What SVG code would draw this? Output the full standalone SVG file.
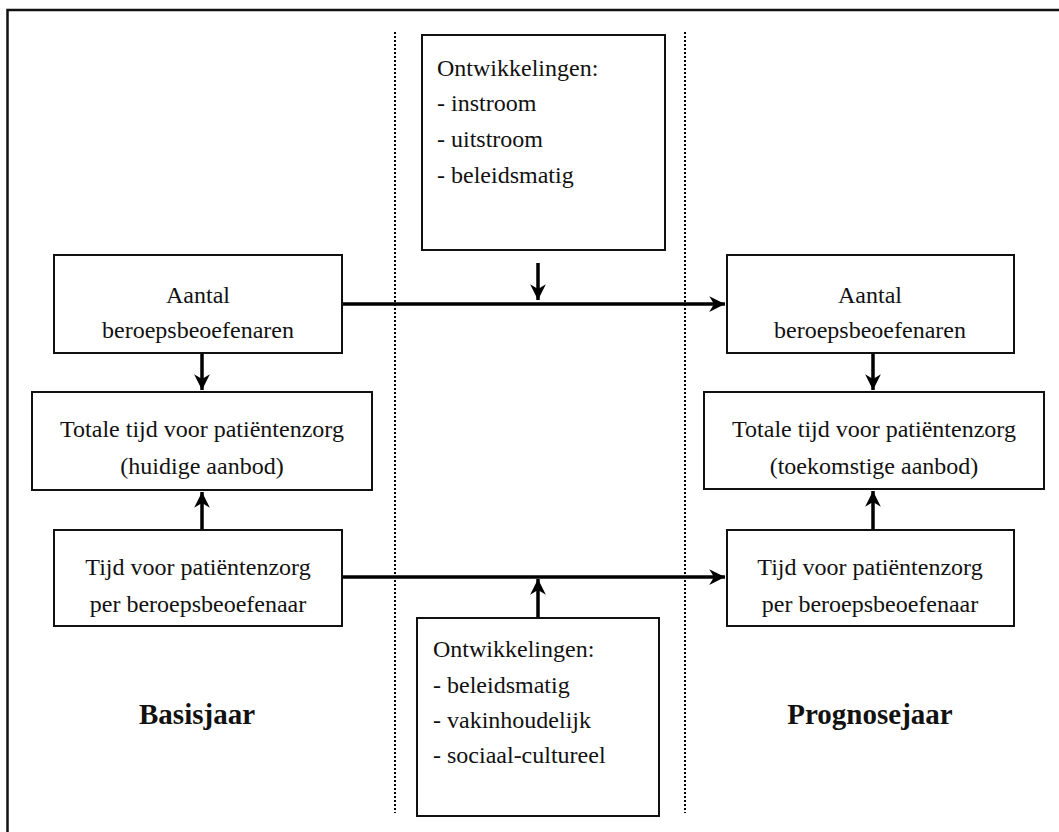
<svg xmlns="http://www.w3.org/2000/svg" width="1059" height="832" viewBox="0 0 1059 832">
<defs>
<marker id="ah" viewBox="0 0 10 10" refX="10" refY="5" markerWidth="4.5" markerHeight="4.5" markerUnits="strokeWidth" orient="auto">
<path d="M0,0 L10,5 L0,10 L3,5 z" fill="#000"/>
</marker>
<style>
.box{fill:#fff;stroke:#111;stroke-width:2}
.t{font-family:"Liberation Serif","Times New Roman",serif;font-size:24px;fill:#111}
.c{text-anchor:middle}
.b{font-family:"Liberation Serif","Times New Roman",serif;font-size:29px;font-weight:bold;fill:#111;text-anchor:middle}
.dot{stroke:#000;stroke-width:2;stroke-dasharray:2,2;fill:none}
.con{stroke:#000;stroke-width:3.5;fill:none}
</style>
</defs>
<rect x="0" y="0" width="1059" height="832" fill="#fff"/>
<rect x="7.5" y="10" width="1070" height="840" fill="none" stroke="#111" stroke-width="2.5"/>
<g id="dividers">
<line class="dot" x1="395" y1="32" x2="395" y2="813"/>
<line class="dot" x1="685" y1="32" x2="685" y2="813"/>
</g>
<g id="connectors">
<line class="con" x1="342" y1="304" x2="725" y2="304" marker-end="url(#ah)"/>
<line class="con" x1="342" y1="577" x2="725" y2="577" marker-end="url(#ah)"/>
<line class="con" x1="538" y1="263" x2="538" y2="300" marker-end="url(#ah)"/>
<line class="con" x1="538" y1="618" x2="538" y2="579" marker-end="url(#ah)"/>
<line class="con" x1="202" y1="353" x2="202" y2="390" marker-end="url(#ah)"/>
<line class="con" x1="202" y1="530" x2="202" y2="492" marker-end="url(#ah)"/>
<line class="con" x1="873" y1="353" x2="873" y2="390" marker-end="url(#ah)"/>
<line class="con" x1="873" y1="530" x2="873" y2="491" marker-end="url(#ah)"/>
</g>
<g id="dev-top">
<rect class="box" x="422" y="35" width="243" height="215"/>
<text class="t" x="437" y="76">Ontwikkelingen:</text>
<text class="t" x="437" y="111">- instroom</text>
<text class="t" x="437" y="147">- uitstroom</text>
<text class="t" x="437" y="183">- beleidsmatig</text>
</g>
<g id="dev-bottom">
<rect class="box" x="417" y="618" width="242" height="198"/>
<text class="t" x="433" y="657">Ontwikkelingen:</text>
<text class="t" x="433" y="693">- beleidsmatig</text>
<text class="t" x="433" y="728">- vakinhoudelijk</text>
<text class="t" x="433" y="763">- sociaal-cultureel</text>
</g>
<g id="aantal-basis">
<rect class="box" x="54" y="255" width="288" height="98"/>
<text class="t c" x="198" y="303">Aantal</text>
<text class="t c" x="198" y="338">beroepsbeoefenaren</text>
</g>
<g id="totaal-basis">
<rect class="box" x="32" y="392" width="340" height="98"/>
<text class="t c" x="202" y="437">Totale tijd voor patiëntenzorg</text>
<text class="t c" x="202" y="474">(huidige aanbod)</text>
</g>
<g id="tijd-basis">
<rect class="box" x="54" y="530" width="288" height="96"/>
<text class="t c" x="198" y="575">Tijd voor patiëntenzorg</text>
<text class="t c" x="198" y="612">per beroepsbeoefenaar</text>
</g>
<g id="aantal-prognose">
<rect class="box" x="727" y="255" width="287" height="98"/>
<text class="t c" x="870" y="303">Aantal</text>
<text class="t c" x="870" y="338">beroepsbeoefenaren</text>
</g>
<g id="totaal-prognose">
<rect class="box" x="704" y="392" width="340" height="97"/>
<text class="t c" x="874" y="437">Totale tijd voor patiëntenzorg</text>
<text class="t c" x="874" y="474">(toekomstige aanbod)</text>
</g>
<g id="tijd-prognose">
<rect class="box" x="727" y="530" width="287" height="96"/>
<text class="t c" x="870" y="575">Tijd voor patiëntenzorg</text>
<text class="t c" x="870" y="612">per beroepsbeoefenaar</text>
</g>
<g id="labels">
<text class="b" x="197" y="724">Basisjaar</text>
<text class="b" x="870" y="724">Prognosejaar</text>
</g>
</svg>
